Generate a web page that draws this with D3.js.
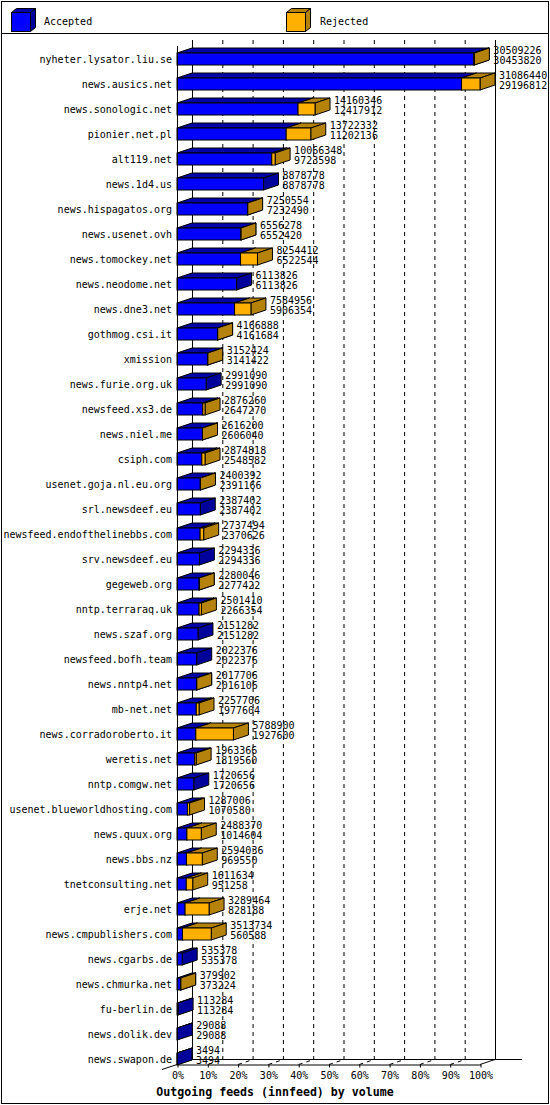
<!DOCTYPE html>
<html>
<head>
<meta charset="utf-8">
<script src="https://cdn.jsdelivr.net/npm/d3@7"></script>
<style>
  body { margin: 0; background: #fff; }
  text { font-family: "DejaVu Sans Mono", monospace; font-size: 10px; fill: #000; }
</style>
</head>
<body>
<svg id="chart" width="550" height="1105"></svg>
<script>
// innfeed outgoing volume per peer: offered (top number) and accepted (bottom number)
const hosts = [
  "nyheter.lysator.liu.se", "news.ausics.net", "news.sonologic.net", "pionier.net.pl",
  "alt119.net", "news.1d4.us", "news.hispagatos.org", "news.usenet.ovh",
  "news.tomockey.net", "news.neodome.net", "news.dne3.net", "gothmog.csi.it",
  "xmission", "news.furie.org.uk", "newsfeed.xs3.de", "news.niel.me",
  "csiph.com", "usenet.goja.nl.eu.org", "srl.newsdeef.eu", "newsfeed.endofthelinebbs.com",
  "srv.newsdeef.eu", "gegeweb.org", "nntp.terraraq.uk", "news.szaf.org",
  "newsfeed.bofh.team", "news.nntp4.net", "mb-net.net", "news.corradoroberto.it",
  "weretis.net", "nntp.comgw.net", "usenet.blueworldhosting.com", "news.quux.org",
  "news.bbs.nz", "tnetconsulting.net", "erje.net", "news.cmpublishers.com",
  "news.cgarbs.de", "news.chmurka.net", "fu-berlin.de", "news.dolik.dev",
  "news.swapon.de"
];
const offered = [
  30509226, 31086440, 14160346, 13722332, 10066348, 8878778, 7250554, 6556278,
  8254412, 6113826, 7584956, 4166888, 3152424, 2991090, 2876260, 2616200,
  2874818, 2400392, 2387402, 2737494, 2294336, 2280046, 2501410, 2151282,
  2022376, 2017706, 2257706, 5788900, 1963366, 1720656, 1287006, 2488370,
  2594036, 1611634, 3289464, 3513734, 535378, 379902, 113284, 29088, 3494
];
const accepted = [
  30453820, 29196812, 12417912, 11202136, 9723598, 8878778, 7232490, 6552420,
  6522544, 6113826, 5906354, 4161684, 3141422, 2991090, 2647270, 2606040,
  2548582, 2391166, 2387402, 2370626, 2294336, 2277422, 2266354, 2151282,
  2022376, 2016106, 1977604, 1927600, 1819560, 1720656, 1070580, 1014604,
  969550, 951258, 828188, 560588, 535378, 373224, 113284, 29088, 3494
];
const pctTicks = [0, 10, 20, 30, 40, 50, 60, 70, 80, 90, 100];
const gridTicks = [10, 20, 30, 40, 50, 60, 70, 80, 90];
const legendLabels = ["Accepted", "Rejected"];
const title = "Outgoing feeds (innfeed) by volume";

const colors = {
  accepted: { front: "#0000ff", top: "#0000a8", side: "#00009a" },
  rejected: { front: "#ffb000", top: "#b5830c", side: "#b5830c" }
};

const svg = d3.select("#chart");
const DX = 15, DY = 5;          // 3d depth offset
const FRONT_LEFT = 177, FRONT_RIGHT = 480;
const FLOOR = 1064.5;

const x = d3.scaleLinear().domain([0, d3.max(offered)]).range([FRONT_LEFT, FRONT_RIGHT]);
const pct = d3.scaleLinear().domain([0, 100]).range([FRONT_LEFT, FRONT_RIGHT]);
const y = d3.scaleBand().domain(hosts).range([46.5, 46.5 + hosts.length * 25]);

// frame and legend
svg.append("rect").attr("x", 1.5).attr("y", 1.5).attr("width", 547).attr("height", 1102)
  .attr("fill", "none").attr("stroke", "#000");
svg.append("line").attr("x1", 1.5).attr("x2", 548.5).attr("y1", 33.5).attr("y2", 33.5).attr("stroke", "#000");

function cube(g, x1, x2, top, bot, c, dx, dy) {
  g.append("polygon")
    .attr("points", [[x1, top], [x1 + dx, top - dy], [x2 + dx, top - dy], [x2, top]].join(" "))
    .attr("fill", c.top).attr("stroke", "#000").attr("stroke-linejoin", "round");
  g.append("polygon")
    .attr("points", [[x2, top], [x2 + dx, top - dy], [x2 + dx, bot - dy], [x2, bot]].join(" "))
    .attr("fill", c.side).attr("stroke", "#000").attr("stroke-linejoin", "round");
  g.append("rect").attr("x", x1).attr("y", top).attr("width", Math.max(0, x2 - x1)).attr("height", bot - top)
    .attr("fill", c.front).attr("stroke", "#000");
}

const legend = svg.append("g");
[["accepted", 11.5, 44], ["rejected", 286.5, 320]].forEach(([k, lx, tx], i) => {
  cube(legend, lx, lx + 19, 12.5, 31.5, colors[k], 5, 4);
  legend.append("text").attr("x", tx).attr("y", 21).attr("dy", "0.35em").text(legendLabels[i]);
});

// back wall, grid and floor
const grid = svg.append("g").attr("stroke", "#000").attr("fill", "none");
gridTicks.forEach(p => {
  grid.append("line").attr("x1", pct(p) + DX + 0.5).attr("x2", pct(p) + DX + 0.5)
    .attr("y1", 40).attr("y2", FLOOR - DY).attr("stroke-dasharray", "4,4");
  grid.append("line").attr("x1", pct(p) + 0.5).attr("y1", FLOOR)
    .attr("x2", pct(p) + DX + 0.5).attr("y2", FLOOR - DY).attr("stroke-dasharray", "4,4");
});
grid.append("line").attr("x1", FRONT_LEFT + DX + 0.5).attr("x2", FRONT_LEFT + DX + 0.5)
  .attr("y1", 40).attr("y2", FLOOR - DY);
grid.append("line").attr("x1", FRONT_RIGHT + DX + 0.5).attr("x2", FRONT_RIGHT + DX + 0.5)
  .attr("y1", 40).attr("y2", FLOOR - DY);
grid.append("line").attr("x1", FRONT_LEFT + DX).attr("x2", 522).attr("y1", FLOOR - DY).attr("y2", FLOOR - DY);
grid.append("line").attr("x1", FRONT_LEFT - DX).attr("y1", FLOOR + DY)
  .attr("x2", FRONT_LEFT + DX).attr("y2", FLOOR - DY);
grid.append("line").attr("x1", FRONT_RIGHT).attr("y1", FLOOR)
  .attr("x2", FRONT_RIGHT + DX).attr("y2", FLOOR - DY);

// bars
const bars = svg.append("g");
hosts.forEach((h, i) => {
  const c = y(h) + y.bandwidth() / 2;
  const top = c - 6, bot = c + 6;
  cube(bars, x(0), x(accepted[i]), top, bot, colors.accepted, DX, DY);
  if (offered[i] > accepted[i]) {
    cube(bars, x(accepted[i]), x(offered[i]), top, bot, colors.rejected, DX, DY);
  }
  bars.append("text").attr("x", 172).attr("y", c).attr("dy", "0.35em")
    .attr("text-anchor", "end").text(h);
  const lx = x(offered[i]) + DX + 4;
  bars.append("text").attr("x", lx).attr("y", c - 8.5).attr("dy", "0.35em").text(offered[i]);
  bars.append("text").attr("x", lx).attr("y", c + 1.5).attr("dy", "0.35em").text(accepted[i]);
});

// front axes
svg.append("line").attr("x1", FRONT_LEFT + 0.5).attr("x2", FRONT_LEFT + 0.5)
  .attr("y1", 46).attr("y2", FLOOR).attr("stroke", "#000");

const xAxis = d3.axisBottom(pct).tickValues(pctTicks).tickFormat(d => d + "%")
  .tickSize(3).tickSizeOuter(0).tickPadding(4);
svg.append("g").attr("transform", `translate(0.5,${FLOOR})`).call(xAxis)
  .call(g => g.selectAll("text").style("font-family", "DejaVu Sans Mono, monospace").style("font-size", "10px"));

svg.append("text").attr("x", 275).attr("y", 1092).attr("dy", "0.35em")
  .attr("text-anchor", "middle").style("font-weight", "bold").style("font-size", "11.6px")
  .text(title);
</script>
</body>
</html>
